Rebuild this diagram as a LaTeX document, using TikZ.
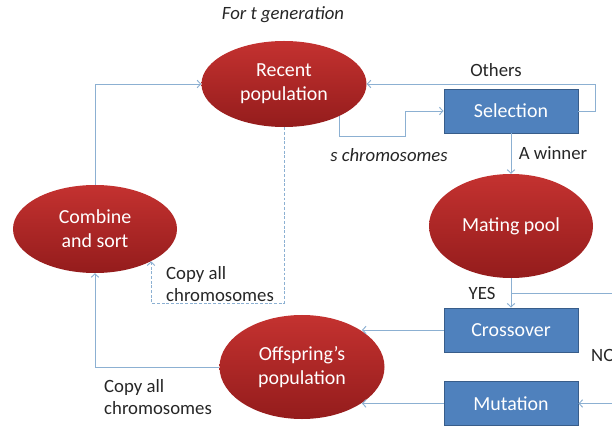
\documentclass[tikz,border=0pt]{standalone}
\usepackage{fontspec}
\setmainfont{Carlito}
\usetikzlibrary{arrows.meta,shapes.geometric,calc}
\definecolor{gared}{RGB}{196,50,48}
\definecolor{gareddark}{RGB}{148,28,28}
\definecolor{gablue}{RGB}{79,129,189}
\definecolor{gablueline}{RGB}{56,93,138}
\definecolor{galink}{RGB}{140,176,210}

\tikzset{
  popnode/.style={ellipse, inner sep=0pt, draw=none,
    top color=gared, middle color=gared, bottom color=gareddark,
    text=white, align=center, font=\fontsize{17}{20.5}\selectfont},
  opbox/.style={rectangle, draw=gablueline, line width=0.8pt, fill=gablue,
    minimum width=4.02cm, minimum height=1.32cm, inner sep=0pt,
    text=white, font=\fontsize{17}{20.5}\selectfont},
  note/.style={text=black!85, align=left, inner sep=0pt, font=\fontsize{16}{19}\selectfont},
  italicnote/.style={note, font=\fontsize{16}{19}\selectfont\itshape},
  flow/.style={draw=galink, line width=0.8pt},
  dashflow/.style={flow, dash pattern=on 2.5pt off 1.5pt},
}

\begin{document}
\begin{tikzpicture}[x=0.03cm, y=-0.03cm, >={Straight Barb[length=3pt,width=6.5pt]}]
\useasboundingbox (0,0) rectangle (612,426);
\clip (0,0) rectangle (612,426);

% populations
\node[popnode, minimum width=4.95cm, minimum height=2.58cm] (recent) at (284,84) {Recent\\population};
\node[popnode, minimum width=4.92cm, minimum height=2.64cm] (combine) at (95,229) {Combine\\and sort};
\node[popnode, minimum width=4.92cm, minimum height=3.12cm] (mating) at (511,226) {Mating pool};
\node[popnode, minimum width=4.95cm, minimum height=3.12cm] (offs) at (302,367) {Offspring’s\\population};

% operators
\node[opbox] (sel) at (511,111) {Selection};
\node[opbox] (cross) at (511,330) {Crossover};
\node[opbox] (mut) at (511,403.5) {Mutation};

% labels
\node[italicnote] (fortgen) at (283,15) {For t generation};
\node[note] (others) at (496,70) {Others};
\node[italicnote] (schrom) at (389,155) {s chromosomes};
\node[note] (winner) at (553,153) {A winner};
\node[note] (yes) at (482,293) {YES};
\node[note, anchor=west] (no) at (591,355) {NO};
\node[note, anchor=west] (copyup) at (166,284) {Copy all\\chromosomes};
\node[note, anchor=west] (copydown) at (104,397) {Copy all\\chromosomes};

% connectors
\coordinate (sbend) at (405,136);
\coordinate (noright) at (630,293);
\coordinate (dbend) at (153,303);

\draw[flow, ->] (combine.north) |- (recent.west);
\draw[flow, ->] (sel.east) -- ++(17,0) |- (recent.east);
\draw[flow, ->] (recent.-30) |- (sbend) |- (sel.west);
\draw[flow, ->] (sel.south) -- (mating.north);
\draw[flow, ->] (mating.south) -- (cross.north);
\draw[flow, ->] (mating.south |- noright) -- (noright) |- (mut.east);
\draw[flow, ->] (cross.west) -- (cross.west -| offs.31);
\draw[flow, ->] (mut.west) -- (mut.west -| offs.-31);
\draw[flow, ->] (offs.west) -| (combine.south);
\draw[dashflow, ->] (recent.south) |- (combine.-30 |- dbend) -- (combine.-30);

\end{tikzpicture}
\end{document}
